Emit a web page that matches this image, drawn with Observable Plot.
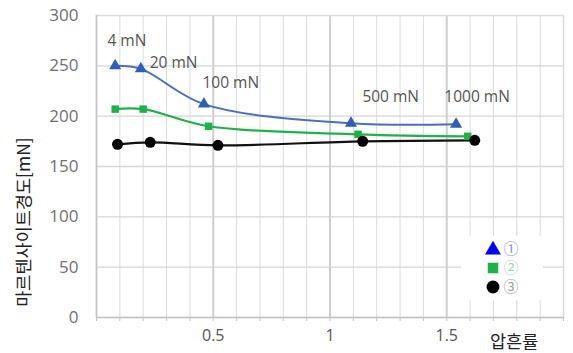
<!DOCTYPE html>
<html>
<head>
<meta charset="utf-8">
<script src="https://cdn.jsdelivr.net/npm/d3@7"></script>
<script src="https://cdn.jsdelivr.net/npm/@observablehq/plot@0.6"></script>
<style>
  html, body { margin: 0; padding: 0; background: #fff; }
  #wrap { position: relative; width: 573px; height: 353px; font-family: "Open Sans", "Noto Sans", "Noto Sans CJK KR", sans-serif; }
  .ytitle { position: absolute; left: 22px; top: 222px; transform: translate(-50%, -50%) rotate(-90deg); white-space: nowrap; font-family: "Noto Sans CJK KR", sans-serif; font-size: 17.5px; color: #222; }
  .xtitle { position: absolute; left: 490px; top: 328px; white-space: nowrap; font-family: "Noto Sans CJK KR", sans-serif; font-size: 17.5px; color: #222; }
  .legend { position: absolute; left: 461px; top: 236px; width: 82px; height: 64px; background: #fff; }
</style>
</head>
<body>
<div id="wrap"></div>
<script>
// Data
const seriesNames = ["①", "②", "③"];
const s1x = [0.08, 0.19, 0.46, 1.09, 1.54];
const s1y = [250, 247, 212, 193, 192];
const s2x = [0.08, 0.20, 0.48, 1.12, 1.59];
const s2y = [207, 207, 190, 182, 180];
const s3x = [0.09, 0.23, 0.52, 1.14, 1.62];
const s3y = [172, 174, 171, 175, 176];
const loadLabels = ["4 mN", "20 mN", "100 mN", "500 mN", "1000 mN"];
const loadLabelX = [0.13, 0.33, 0.575, 1.26, 1.63];
const loadLabelY = [275, 253, 233, 219, 219];
const yTicks = [0, 50, 100, 150, 200, 250, 300];
const xTicks = d3.range(0, 21).map(i => i / 10);
const xTickLabels = {"0.5": "0.5", "1": "1", "1.5": "1.5"};

const s1 = s1x.map((x, i) => ({x, y: s1y[i]}));
const s2 = s2x.map((x, i) => ({x, y: s2y[i]}));
const s3 = s3x.map((x, i) => ({x, y: s3y[i]}));
const labels = loadLabels.map((t, i) => ({t, x: loadLabelX[i], y: loadLabelY[i]}));
const majors = xTicks.filter(d => Math.abs(d * 2 - Math.round(d * 2)) < 1e-9 && d > 0 && d < 2);
const minors = xTicks.filter(d => !majors.includes(d) && d > 0 && d < 2);

const chart = Plot.plot({
  width: 573,
  height: 353,
  marginLeft: 96,
  marginRight: 10,
  marginTop: 15,
  marginBottom: 36,
  style: {fontFamily: "'Open Sans', 'Noto Sans', sans-serif", background: "#fff", overflow: "visible"},
  x: {domain: [0, 2]},
  y: {domain: [0, 300]},
  marks: [
    Plot.ruleX(minors, {stroke: "#dcdcdc", strokeWidth: 1}),
    Plot.ruleY(yTicks.filter(d => d > 0 && d < 300), {stroke: "#d6d6d6", strokeWidth: 1.3}),
    Plot.ruleX(majors, {stroke: "#cfcfcf", strokeWidth: 2}),
    Plot.frame({stroke: "#dadada", strokeWidth: 1.5}),
    Plot.ruleX([0], {stroke: "#c4c4c4", strokeWidth: 1.5}),
    Plot.ruleY([0], {stroke: "#c4c4c4", strokeWidth: 1.5}),
    Plot.axisY({ticks: yTicks, tickSize: 0, tickPadding: 18, fontSize: 17, color: "#707070", label: null}),
    Plot.axisX({ticks: xTicks, tickSize: 4, tickPadding: 8, stroke: "#c4c4c4", fontSize: 16, color: "#555",
      tickFormat: d => xTickLabels[String(Math.round(d * 10) / 10)] || "", label: null}),
    Plot.line(s1, {x: "x", y: "y", curve: "catmull-rom", stroke: "#4a6fc2", strokeWidth: 2}),
    Plot.line(s2, {x: "x", y: "y", curve: "catmull-rom", stroke: "#22b04c", strokeWidth: 2.2}),
    Plot.line(s3, {x: "x", y: "y", curve: "catmull-rom", stroke: "#111", strokeWidth: 2.2}),
    Plot.dot(s1, {x: "x", y: "y", symbol: "triangle", r: 4.5, fill: "#2f5db8", stroke: "none"}),
    Plot.dot(s2, {x: "x", y: "y", symbol: "square", r: 4.2, fill: "#1fb04c", stroke: "none"}),
    Plot.dot(s3, {x: "x", y: "y", symbol: "circle", r: 5.5, fill: "#000", stroke: "none"}),
    Plot.text(labels, {x: "x", y: "y", text: "t", fontSize: 15.5, fill: "#555", fontFamily: "'Open Sans', sans-serif"})
  ]
});

const wrap = document.getElementById("wrap");
wrap.appendChild(chart);

const yt = document.createElement("div");
yt.className = "ytitle";
yt.textContent = "마르텐사이트경도[mN]";
wrap.appendChild(yt);

const xt = document.createElement("div");
xt.className = "xtitle";
xt.textContent = "압흔률";
wrap.appendChild(xt);

// Legend
const legend = document.createElement("div");
legend.className = "legend";
const symbols = ["triangle", "square", "circle"];
const symColors = ["#0000ff", "#1fb04c", "#000"];
const numColors = ["#8a8ae6", "#9ed4a8", "#9a9a9a"];
const ns = "http://www.w3.org/2000/svg";
const lsvg = document.createElementNS(ns, "svg");
lsvg.setAttribute("width", 82);
lsvg.setAttribute("height", 64);
seriesNames.forEach((name, i) => {
  const cy = 13 + i * 19;
  const sym = d3.symbol(
    symbols[i] === "triangle" ? d3.symbolTriangle : symbols[i] === "square" ? d3.symbolSquare : d3.symbolCircle,
    symbols[i] === "circle" ? 130 : symbols[i] === "square" ? 110 : 110
  )();
  const p = document.createElementNS(ns, "path");
  p.setAttribute("d", sym);
  p.setAttribute("transform", `translate(32,${cy + (symbols[i] === "triangle" ? 1 : 0)})`);
  p.setAttribute("fill", symColors[i]);
  lsvg.appendChild(p);
  const t = document.createElementNS(ns, "text");
  t.setAttribute("x", 50);
  t.setAttribute("y", cy);
  t.setAttribute("dy", "0.35em");
  t.setAttribute("text-anchor", "middle");
  t.setAttribute("font-size", "15");
  t.setAttribute("font-family", "'Noto Sans CJK KR', sans-serif");
  t.setAttribute("fill", numColors[i]);
  t.textContent = name;
  lsvg.appendChild(t);
});
legend.appendChild(lsvg);
wrap.appendChild(legend);
</script>
</body>
</html>
